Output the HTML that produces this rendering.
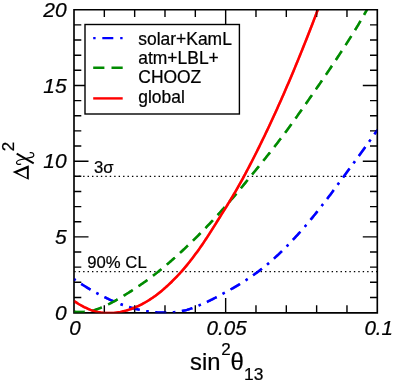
<!DOCTYPE html><html><head><meta charset="utf-8"><style>html,body{margin:0;padding:0;background:#fff}svg{display:block;will-change:transform;opacity:0.999}text{font-family:"Liberation Sans",sans-serif;fill:#000;stroke:#000;stroke-width:0.22px}</style></head><body>
<svg width="393" height="382" viewBox="0 0 393 382">
<rect width="393" height="382" fill="#fff"/>
<defs><clipPath id="c"><rect x="74.0" y="9.75" width="303.3" height="302.85"/></clipPath><clipPath id="c2"><rect x="73.2" y="10.75" width="304.1" height="303.05"/></clipPath></defs>
<line x1="74.25" y1="271.56" x2="377.3" y2="271.56" stroke="#000" stroke-width="1.3" stroke-dasharray="1.4 3.038"/>
<line x1="74.25" y1="176.32" x2="377.3" y2="176.32" stroke="#000" stroke-width="1.3" stroke-dasharray="1.4 3.038"/>
<g clip-path="url(#c)" fill="none" stroke-width="2.5" stroke-linejoin="round">
<path d="M74.00,279.16 L75.27,280.02 L76.54,280.86 L77.81,281.70 L79.08,282.53 L80.35,283.35 L81.61,284.16 L82.88,284.96 L84.15,285.75 L85.42,286.54 L86.69,287.31 L87.96,288.08 L89.23,288.83 L90.50,289.58 L91.77,290.31 L93.04,291.04 L94.30,291.76 L95.57,292.46 L96.84,293.16 L98.11,293.84 L99.38,294.52 L100.65,295.18 L101.92,295.84 L103.19,296.48 L104.46,297.11 L105.73,297.73 L106.99,298.34 L108.26,298.94 L109.53,299.52 L110.80,300.10 L112.07,300.66 L113.34,301.21 L114.61,301.75 L115.88,302.28 L117.15,302.79 L118.42,303.30 L119.69,303.79 L120.95,304.27 L122.22,304.73 L123.49,305.19 L124.76,305.63 L126.03,306.06 L127.30,306.47 L128.57,306.87 L129.84,307.26 L131.11,307.64 L132.38,308.00 L133.64,308.35 L134.91,308.69 L136.18,309.01 L137.45,309.32 L138.72,309.62 L139.99,309.90 L141.26,310.17 L142.53,310.43 L143.80,310.67 L145.07,310.89 L146.34,311.11 L147.60,311.31 L148.87,311.49 L150.14,311.66 L151.41,311.82 L152.68,311.96 L153.95,312.09 L155.22,312.21 L156.49,312.31 L157.76,312.39 L159.03,312.46 L160.29,312.52 L161.56,312.56 L162.83,312.59 L164.10,312.60 L165.37,312.60 L166.64,312.58 L167.91,312.55 L169.18,312.50 L170.45,312.44 L171.72,312.36 L172.98,312.26 L174.25,312.13 L175.52,311.99 L176.79,311.83 L178.06,311.65 L179.33,311.46 L180.60,311.24 L181.87,311.01 L183.14,310.76 L184.41,310.49 L185.68,310.20 L186.94,309.87 L188.21,309.50 L189.48,309.10 L190.75,308.67 L192.02,308.21 L193.29,307.74 L194.56,307.24 L195.83,306.74 L197.10,306.22 L198.37,305.70 L199.63,305.19 L200.90,304.67 L202.17,304.14 L203.44,303.58 L204.71,303.02 L205.98,302.43 L207.25,301.84 L208.52,301.23 L209.79,300.60 L211.06,299.97 L212.33,299.33 L213.59,298.67 L214.86,298.01 L216.13,297.34 L217.40,296.67 L218.67,295.98 L219.94,295.30 L221.21,294.61 L222.48,293.92 L223.75,293.23 L225.02,292.53 L226.28,291.84 L227.55,291.14 L228.82,290.44 L230.09,289.74 L231.36,289.03 L232.63,288.31 L233.90,287.59 L235.17,286.85 L236.44,286.11 L237.71,285.36 L238.97,284.60 L240.24,283.82 L241.51,283.03 L242.78,282.22 L244.05,281.40 L245.32,280.57 L246.59,279.72 L247.86,278.86 L249.13,278.00 L250.40,277.13 L251.67,276.25 L252.93,275.37 L254.20,274.48 L255.47,273.58 L256.74,272.66 L258.01,271.73 L259.28,270.79 L260.55,269.83 L261.82,268.85 L263.09,267.86 L264.36,266.85 L265.62,265.81 L266.89,264.75 L268.16,263.68 L269.43,262.59 L270.70,261.48 L271.97,260.36 L273.24,259.23 L274.51,258.09 L275.78,256.92 L277.05,255.75 L278.32,254.56 L279.58,253.35 L280.85,252.13 L282.12,250.90 L283.39,249.64 L284.66,248.38 L285.93,247.10 L287.20,245.81 L288.47,244.51 L289.74,243.20 L291.01,241.87 L292.27,240.54 L293.54,239.19 L294.81,237.84 L296.08,236.47 L297.35,235.08 L298.62,233.68 L299.89,232.27 L301.16,230.84 L302.43,229.40 L303.70,227.94 L304.96,226.47 L306.23,224.98 L307.50,223.48 L308.77,221.96 L310.04,220.43 L311.31,218.89 L312.58,217.34 L313.85,215.78 L315.12,214.21 L316.39,212.63 L317.66,211.04 L318.92,209.44 L320.19,207.83 L321.46,206.22 L322.73,204.59 L324.00,202.96 L325.27,201.33 L326.54,199.67 L327.81,198.01 L329.08,196.32 L330.35,194.63 L331.61,192.93 L332.88,191.21 L334.15,189.49 L335.42,187.77 L336.69,186.05 L337.96,184.32 L339.23,182.60 L340.50,180.88 L341.77,179.17 L343.04,177.45 L344.31,175.73 L345.57,174.01 L346.84,172.29 L348.11,170.56 L349.38,168.84 L350.65,167.11 L351.92,165.38 L353.19,163.65 L354.46,161.91 L355.73,160.18 L357.00,158.44 L358.26,156.70 L359.53,154.95 L360.80,153.21 L362.07,151.46 L363.34,149.70 L364.61,147.94 L365.88,146.18 L367.15,144.42 L368.42,142.65 L369.69,140.88 L370.95,139.10 L372.22,137.30 L373.49,135.50 L374.76,133.69 L376.03,131.88 L377.30,130.06" stroke="#0000ff" stroke-dasharray="2.5 6.6 11.0 6.6" stroke-dashoffset="0.5"/>
<path d="M74.00,311.57 L75.27,311.78 L76.54,311.93 L77.81,312.03 L79.08,312.09 L80.35,312.10 L81.61,312.06 L82.88,311.98 L84.15,311.86 L85.42,311.70 L86.69,311.54 L87.96,311.36 L89.23,311.17 L90.50,310.96 L91.77,310.72 L93.04,310.44 L94.30,310.11 L95.57,309.73 L96.84,309.29 L98.11,308.83 L99.38,308.35 L100.65,307.84 L101.92,307.31 L103.19,306.77 L104.46,306.20 L105.73,305.61 L106.99,305.01 L108.26,304.39 L109.53,303.75 L110.80,303.10 L112.07,302.43 L113.34,301.74 L114.61,301.05 L115.88,300.34 L117.15,299.61 L118.42,298.88 L119.69,298.13 L120.95,297.37 L122.22,296.61 L123.49,295.84 L124.76,295.06 L126.03,294.28 L127.30,293.49 L128.57,292.70 L129.84,291.89 L131.11,291.08 L132.38,290.27 L133.64,289.44 L134.91,288.61 L136.18,287.77 L137.45,286.93 L138.72,286.07 L139.99,285.21 L141.26,284.34 L142.53,283.46 L143.80,282.57 L145.07,281.68 L146.34,280.77 L147.60,279.85 L148.87,278.92 L150.14,277.99 L151.41,277.04 L152.68,276.08 L153.95,275.10 L155.22,274.12 L156.49,273.12 L157.76,272.11 L159.03,271.10 L160.29,270.07 L161.56,269.03 L162.83,267.98 L164.10,266.93 L165.37,265.86 L166.64,264.78 L167.91,263.70 L169.18,262.61 L170.45,261.51 L171.72,260.40 L172.98,259.28 L174.25,258.15 L175.52,257.01 L176.79,255.87 L178.06,254.72 L179.33,253.56 L180.60,252.39 L181.87,251.22 L183.14,250.03 L184.41,248.84 L185.68,247.64 L186.94,246.44 L188.21,245.22 L189.48,244.00 L190.75,242.78 L192.02,241.54 L193.29,240.30 L194.56,239.05 L195.83,237.80 L197.10,236.54 L198.37,235.27 L199.63,234.00 L200.90,232.72 L202.17,231.43 L203.44,230.14 L204.71,228.83 L205.98,227.52 L207.25,226.20 L208.52,224.87 L209.79,223.53 L211.06,222.18 L212.33,220.83 L213.59,219.47 L214.86,218.10 L216.13,216.72 L217.40,215.33 L218.67,213.93 L219.94,212.53 L221.21,211.12 L222.48,209.70 L223.75,208.27 L225.02,206.84 L226.28,205.40 L227.55,203.95 L228.82,202.49 L230.09,201.02 L231.36,199.55 L232.63,198.07 L233.90,196.58 L235.17,195.09 L236.44,193.58 L237.71,192.07 L238.97,190.56 L240.24,189.03 L241.51,187.50 L242.78,185.96 L244.05,184.42 L245.32,182.87 L246.59,181.32 L247.86,179.77 L249.13,178.22 L250.40,176.66 L251.67,175.11 L252.93,173.56 L254.20,172.01 L255.47,170.46 L256.74,168.90 L258.01,167.34 L259.28,165.78 L260.55,164.21 L261.82,162.65 L263.09,161.07 L264.36,159.50 L265.62,157.92 L266.89,156.33 L268.16,154.74 L269.43,153.14 L270.70,151.54 L271.97,149.93 L273.24,148.31 L274.51,146.68 L275.78,145.05 L277.05,143.41 L278.32,141.76 L279.58,140.10 L280.85,138.43 L282.12,136.75 L283.39,135.06 L284.66,133.36 L285.93,131.65 L287.20,129.93 L288.47,128.20 L289.74,126.46 L291.01,124.72 L292.27,122.96 L293.54,121.20 L294.81,119.43 L296.08,117.65 L297.35,115.87 L298.62,114.08 L299.89,112.29 L301.16,110.49 L302.43,108.68 L303.70,106.88 L304.96,105.06 L306.23,103.25 L307.50,101.43 L308.77,99.61 L310.04,97.78 L311.31,95.95 L312.58,94.12 L313.85,92.29 L315.12,90.46 L316.39,88.62 L317.66,86.78 L318.92,84.95 L320.19,83.11 L321.46,81.27 L322.73,79.42 L324.00,77.56 L325.27,75.70 L326.54,73.84 L327.81,71.97 L329.08,70.09 L330.35,68.20 L331.61,66.31 L332.88,64.42 L334.15,62.52 L335.42,60.61 L336.69,58.70 L337.96,56.78 L339.23,54.85 L340.50,52.92 L341.77,50.98 L343.04,49.04 L344.31,47.09 L345.57,45.13 L346.84,43.16 L348.11,41.18 L349.38,39.18 L350.65,37.17 L351.92,35.15 L353.19,33.11 L354.46,31.05 L355.73,28.98 L357.00,26.89 L358.26,24.79 L359.53,22.66 L360.80,20.52 L362.07,18.35 L363.34,16.17 L364.61,13.96 L365.88,11.73 L367.15,9.47 L368.42,7.19 L369.69,4.88 L370.95,2.55 L372.22,0.18 L373.49,-2.21 L374.76,-4.63 L376.03,-7.09 L377.30,-9.58" stroke="#008b00" stroke-dasharray="10.75 7.0"/>
<path d="M74.00,300.92 L75.27,301.79 L76.54,302.64 L77.81,303.45 L79.08,304.23 L80.35,304.97 L81.61,305.69 L82.88,306.37 L84.15,307.02 L85.42,307.63 L86.69,308.23 L87.96,308.80 L89.23,309.34 L90.50,309.85 L91.77,310.32 L93.04,310.75 L94.30,311.13 L95.57,311.47 L96.84,311.77 L98.11,312.04 L99.38,312.27 L100.65,312.48 L101.92,312.66 L103.19,312.81 L104.46,312.92 L105.73,313.01 L106.99,313.07 L108.26,313.10 L109.53,313.10 L110.80,313.07 L112.07,313.01 L113.34,312.93 L114.61,312.82 L115.88,312.68 L117.15,312.51 L118.42,312.32 L119.69,312.11 L120.95,311.86 L122.22,311.59 L123.49,311.29 L124.76,310.97 L126.03,310.62 L127.30,310.24 L128.57,309.85 L129.84,309.43 L131.11,308.99 L132.38,308.52 L133.64,308.03 L134.91,307.51 L136.18,306.96 L137.45,306.39 L138.72,305.80 L139.99,305.19 L141.26,304.55 L142.53,303.88 L143.80,303.20 L145.07,302.49 L146.34,301.75 L147.60,300.99 L148.87,300.21 L150.14,299.40 L151.41,298.57 L152.68,297.71 L153.95,296.82 L155.22,295.91 L156.49,294.97 L157.76,294.01 L159.03,293.02 L160.29,292.00 L161.56,290.96 L162.83,289.89 L164.10,288.79 L165.37,287.67 L166.64,286.53 L167.91,285.37 L169.18,284.19 L170.45,282.98 L171.72,281.75 L172.98,280.49 L174.25,279.22 L175.52,277.92 L176.79,276.60 L178.06,275.25 L179.33,273.89 L180.60,272.50 L181.87,271.09 L183.14,269.64 L184.41,268.16 L185.68,266.65 L186.94,265.11 L188.21,263.54 L189.48,261.95 L190.75,260.33 L192.02,258.69 L193.29,257.02 L194.56,255.33 L195.83,253.62 L197.10,251.89 L198.37,250.15 L199.63,248.37 L200.90,246.56 L202.17,244.71 L203.44,242.84 L204.71,240.93 L205.98,239.01 L207.25,237.06 L208.52,235.09 L209.79,233.11 L211.06,231.11 L212.33,229.11 L213.59,227.09 L214.86,225.07 L216.13,223.04 L217.40,221.02 L218.67,218.99 L219.94,216.97 L221.21,214.95 L222.48,212.93 L223.75,210.90 L225.02,208.86 L226.28,206.81 L227.55,204.75 L228.82,202.68 L230.09,200.59 L231.36,198.48 L232.63,196.36 L233.90,194.22 L235.17,192.05 L236.44,189.86 L237.71,187.65 L238.97,185.42 L240.24,183.15 L241.51,180.86 L242.78,178.53 L244.05,176.18 L245.32,173.81 L246.59,171.43 L247.86,169.02 L249.13,166.60 L250.40,164.16 L251.67,161.70 L252.93,159.23 L254.20,156.74 L255.47,154.23 L256.74,151.70 L258.01,149.15 L259.28,146.59 L260.55,144.01 L261.82,141.42 L263.09,138.80 L264.36,136.17 L265.62,133.52 L266.89,130.86 L268.16,128.17 L269.43,125.47 L270.70,122.75 L271.97,120.02 L273.24,117.27 L274.51,114.50 L275.78,111.71 L277.05,108.91 L278.32,106.09 L279.58,103.25 L280.85,100.39 L282.12,97.52 L283.39,94.63 L284.66,91.73 L285.93,88.80 L287.20,85.86 L288.47,82.90 L289.74,79.93 L291.01,76.94 L292.27,73.93 L293.54,70.90 L294.81,67.86 L296.08,64.80 L297.35,61.72 L298.62,58.63 L299.89,55.51 L301.16,52.38 L302.43,49.24 L303.70,46.07 L304.96,42.89 L306.23,39.70 L307.50,36.48 L308.77,33.25 L310.04,30.00 L311.31,26.73 L312.58,23.45 L313.85,20.15 L315.12,16.83 L316.39,13.49 L317.66,10.14 L318.92,6.77 L320.19,3.38 L321.46,-0.03 L322.73,-3.45 L324.00,-6.89 L325.27,-10.35 L326.54,-13.83 L327.81,-17.32 L329.08,-20.83 L330.35,-24.36 L331.61,-27.91 L332.88,-31.47 L334.15,-35.05 L335.42,-38.65 L336.69,-42.27 L337.96,-45.91 L339.23,-49.56 L340.50,-53.23 L341.77,-56.92 L343.04,-60.63 L344.31,-64.36 L345.57,-68.10 L346.84,-71.86 L348.11,-75.64 L349.38,-79.44 L350.65,-83.26 L351.92,-87.09 L353.19,-90.95 L354.46,-94.82 L355.73,-98.71 L357.00,-102.62 L358.26,-106.55 L359.53,-110.50 L360.80,-114.46 L362.07,-118.45 L363.34,-122.45 L364.61,-126.48 L365.88,-130.52 L367.15,-134.58 L368.42,-138.66 L369.69,-142.76 L370.95,-146.88 L372.22,-151.02 L373.49,-155.17 L374.76,-159.35 L376.03,-163.55 L377.30,-167.76" stroke="#ff0000"/>
</g>
<path d="M104.33,312.6v-7.3M104.33,9.75v7.3M134.66,312.6v-7.3M134.66,9.75v7.3M164.99,312.6v-7.3M164.99,9.75v7.3M195.32,312.6v-7.3M195.32,9.75v7.3M225.65,312.6v-14.5M225.65,9.75v14.5M255.98,312.6v-7.3M255.98,9.75v7.3M286.31,312.6v-7.3M286.31,9.75v7.3M316.64,312.6v-7.3M316.64,9.75v7.3M346.97,312.6v-7.3M346.97,9.75v7.3M74.0,297.46h7.3M377.3,297.46h-7.3M74.0,282.31h7.3M377.3,282.31h-7.3M74.0,267.17h7.3M377.3,267.17h-7.3M74.0,252.03h7.3M377.3,252.03h-7.3M74.0,236.89h14.5M377.3,236.89h-14.5M74.0,221.75h7.3M377.3,221.75h-7.3M74.0,206.60h7.3M377.3,206.60h-7.3M74.0,191.46h7.3M377.3,191.46h-7.3M74.0,176.32h7.3M377.3,176.32h-7.3M74.0,161.18h14.5M377.3,161.18h-14.5M74.0,146.03h7.3M377.3,146.03h-7.3M74.0,130.89h7.3M377.3,130.89h-7.3M74.0,115.75h7.3M377.3,115.75h-7.3M74.0,100.61h7.3M377.3,100.61h-7.3M74.0,85.46h14.5M377.3,85.46h-14.5M74.0,70.32h7.3M377.3,70.32h-7.3M74.0,55.18h7.3M377.3,55.18h-7.3M74.0,40.03h7.3M377.3,40.03h-7.3M74.0,24.89h7.3M377.3,24.89h-7.3" stroke="#000" stroke-width="1.4" fill="none"/>
<path d="M74.0,312.8V9.75H377.3V312.8Z" fill="none" stroke="#000" stroke-width="1.65" stroke-linejoin="miter"/>
<g clip-path="url(#c2)" opacity="0.5" fill="none" stroke-width="2.5" stroke-linejoin="round">
<path d="M74.00,279.16 L75.27,280.02 L76.54,280.86 L77.81,281.70 L79.08,282.53 L80.35,283.35 L81.61,284.16 L82.88,284.96 L84.15,285.75 L85.42,286.54 L86.69,287.31 L87.96,288.08 L89.23,288.83 L90.50,289.58 L91.77,290.31 L93.04,291.04 L94.30,291.76 L95.57,292.46 L96.84,293.16 L98.11,293.84 L99.38,294.52 L100.65,295.18 L101.92,295.84 L103.19,296.48 L104.46,297.11 L105.73,297.73 L106.99,298.34 L108.26,298.94 L109.53,299.52 L110.80,300.10 L112.07,300.66 L113.34,301.21 L114.61,301.75 L115.88,302.28 L117.15,302.79 L118.42,303.30 L119.69,303.79 L120.95,304.27 L122.22,304.73 L123.49,305.19 L124.76,305.63 L126.03,306.06 L127.30,306.47 L128.57,306.87 L129.84,307.26 L131.11,307.64 L132.38,308.00 L133.64,308.35 L134.91,308.69 L136.18,309.01 L137.45,309.32 L138.72,309.62 L139.99,309.90 L141.26,310.17 L142.53,310.43 L143.80,310.67 L145.07,310.89 L146.34,311.11 L147.60,311.31 L148.87,311.49 L150.14,311.66 L151.41,311.82 L152.68,311.96 L153.95,312.09 L155.22,312.21 L156.49,312.31 L157.76,312.39 L159.03,312.46 L160.29,312.52 L161.56,312.56 L162.83,312.59 L164.10,312.60 L165.37,312.60 L166.64,312.58 L167.91,312.55 L169.18,312.50 L170.45,312.44 L171.72,312.36 L172.98,312.26 L174.25,312.13 L175.52,311.99 L176.79,311.83 L178.06,311.65 L179.33,311.46 L180.60,311.24 L181.87,311.01 L183.14,310.76 L184.41,310.49 L185.68,310.20 L186.94,309.87 L188.21,309.50 L189.48,309.10 L190.75,308.67 L192.02,308.21 L193.29,307.74 L194.56,307.24 L195.83,306.74 L197.10,306.22 L198.37,305.70 L199.63,305.19 L200.90,304.67 L202.17,304.14 L203.44,303.58 L204.71,303.02 L205.98,302.43 L207.25,301.84 L208.52,301.23 L209.79,300.60 L211.06,299.97 L212.33,299.33 L213.59,298.67 L214.86,298.01 L216.13,297.34 L217.40,296.67 L218.67,295.98 L219.94,295.30 L221.21,294.61 L222.48,293.92 L223.75,293.23 L225.02,292.53 L226.28,291.84 L227.55,291.14 L228.82,290.44 L230.09,289.74 L231.36,289.03 L232.63,288.31 L233.90,287.59 L235.17,286.85 L236.44,286.11 L237.71,285.36 L238.97,284.60 L240.24,283.82 L241.51,283.03 L242.78,282.22 L244.05,281.40 L245.32,280.57 L246.59,279.72 L247.86,278.86 L249.13,278.00 L250.40,277.13 L251.67,276.25 L252.93,275.37 L254.20,274.48 L255.47,273.58 L256.74,272.66 L258.01,271.73 L259.28,270.79 L260.55,269.83 L261.82,268.85 L263.09,267.86 L264.36,266.85 L265.62,265.81 L266.89,264.75 L268.16,263.68 L269.43,262.59 L270.70,261.48 L271.97,260.36 L273.24,259.23 L274.51,258.09 L275.78,256.92 L277.05,255.75 L278.32,254.56 L279.58,253.35 L280.85,252.13 L282.12,250.90 L283.39,249.64 L284.66,248.38 L285.93,247.10 L287.20,245.81 L288.47,244.51 L289.74,243.20 L291.01,241.87 L292.27,240.54 L293.54,239.19 L294.81,237.84 L296.08,236.47 L297.35,235.08 L298.62,233.68 L299.89,232.27 L301.16,230.84 L302.43,229.40 L303.70,227.94 L304.96,226.47 L306.23,224.98 L307.50,223.48 L308.77,221.96 L310.04,220.43 L311.31,218.89 L312.58,217.34 L313.85,215.78 L315.12,214.21 L316.39,212.63 L317.66,211.04 L318.92,209.44 L320.19,207.83 L321.46,206.22 L322.73,204.59 L324.00,202.96 L325.27,201.33 L326.54,199.67 L327.81,198.01 L329.08,196.32 L330.35,194.63 L331.61,192.93 L332.88,191.21 L334.15,189.49 L335.42,187.77 L336.69,186.05 L337.96,184.32 L339.23,182.60 L340.50,180.88 L341.77,179.17 L343.04,177.45 L344.31,175.73 L345.57,174.01 L346.84,172.29 L348.11,170.56 L349.38,168.84 L350.65,167.11 L351.92,165.38 L353.19,163.65 L354.46,161.91 L355.73,160.18 L357.00,158.44 L358.26,156.70 L359.53,154.95 L360.80,153.21 L362.07,151.46 L363.34,149.70 L364.61,147.94 L365.88,146.18 L367.15,144.42 L368.42,142.65 L369.69,140.88 L370.95,139.10 L372.22,137.30 L373.49,135.50 L374.76,133.69 L376.03,131.88 L377.30,130.06" stroke="#0000ff" stroke-dasharray="2.5 6.6 11.0 6.6" stroke-dashoffset="0.5"/>
<path d="M74.00,311.57 L75.27,311.78 L76.54,311.93 L77.81,312.03 L79.08,312.09 L80.35,312.10 L81.61,312.06 L82.88,311.98 L84.15,311.86 L85.42,311.70 L86.69,311.54 L87.96,311.36 L89.23,311.17 L90.50,310.96 L91.77,310.72 L93.04,310.44 L94.30,310.11 L95.57,309.73 L96.84,309.29 L98.11,308.83 L99.38,308.35 L100.65,307.84 L101.92,307.31 L103.19,306.77 L104.46,306.20 L105.73,305.61 L106.99,305.01 L108.26,304.39 L109.53,303.75 L110.80,303.10 L112.07,302.43 L113.34,301.74 L114.61,301.05 L115.88,300.34 L117.15,299.61 L118.42,298.88 L119.69,298.13 L120.95,297.37 L122.22,296.61 L123.49,295.84 L124.76,295.06 L126.03,294.28 L127.30,293.49 L128.57,292.70 L129.84,291.89 L131.11,291.08 L132.38,290.27 L133.64,289.44 L134.91,288.61 L136.18,287.77 L137.45,286.93 L138.72,286.07 L139.99,285.21 L141.26,284.34 L142.53,283.46 L143.80,282.57 L145.07,281.68 L146.34,280.77 L147.60,279.85 L148.87,278.92 L150.14,277.99 L151.41,277.04 L152.68,276.08 L153.95,275.10 L155.22,274.12 L156.49,273.12 L157.76,272.11 L159.03,271.10 L160.29,270.07 L161.56,269.03 L162.83,267.98 L164.10,266.93 L165.37,265.86 L166.64,264.78 L167.91,263.70 L169.18,262.61 L170.45,261.51 L171.72,260.40 L172.98,259.28 L174.25,258.15 L175.52,257.01 L176.79,255.87 L178.06,254.72 L179.33,253.56 L180.60,252.39 L181.87,251.22 L183.14,250.03 L184.41,248.84 L185.68,247.64 L186.94,246.44 L188.21,245.22 L189.48,244.00 L190.75,242.78 L192.02,241.54 L193.29,240.30 L194.56,239.05 L195.83,237.80 L197.10,236.54 L198.37,235.27 L199.63,234.00 L200.90,232.72 L202.17,231.43 L203.44,230.14 L204.71,228.83 L205.98,227.52 L207.25,226.20 L208.52,224.87 L209.79,223.53 L211.06,222.18 L212.33,220.83 L213.59,219.47 L214.86,218.10 L216.13,216.72 L217.40,215.33 L218.67,213.93 L219.94,212.53 L221.21,211.12 L222.48,209.70 L223.75,208.27 L225.02,206.84 L226.28,205.40 L227.55,203.95 L228.82,202.49 L230.09,201.02 L231.36,199.55 L232.63,198.07 L233.90,196.58 L235.17,195.09 L236.44,193.58 L237.71,192.07 L238.97,190.56 L240.24,189.03 L241.51,187.50 L242.78,185.96 L244.05,184.42 L245.32,182.87 L246.59,181.32 L247.86,179.77 L249.13,178.22 L250.40,176.66 L251.67,175.11 L252.93,173.56 L254.20,172.01 L255.47,170.46 L256.74,168.90 L258.01,167.34 L259.28,165.78 L260.55,164.21 L261.82,162.65 L263.09,161.07 L264.36,159.50 L265.62,157.92 L266.89,156.33 L268.16,154.74 L269.43,153.14 L270.70,151.54 L271.97,149.93 L273.24,148.31 L274.51,146.68 L275.78,145.05 L277.05,143.41 L278.32,141.76 L279.58,140.10 L280.85,138.43 L282.12,136.75 L283.39,135.06 L284.66,133.36 L285.93,131.65 L287.20,129.93 L288.47,128.20 L289.74,126.46 L291.01,124.72 L292.27,122.96 L293.54,121.20 L294.81,119.43 L296.08,117.65 L297.35,115.87 L298.62,114.08 L299.89,112.29 L301.16,110.49 L302.43,108.68 L303.70,106.88 L304.96,105.06 L306.23,103.25 L307.50,101.43 L308.77,99.61 L310.04,97.78 L311.31,95.95 L312.58,94.12 L313.85,92.29 L315.12,90.46 L316.39,88.62 L317.66,86.78 L318.92,84.95 L320.19,83.11 L321.46,81.27 L322.73,79.42 L324.00,77.56 L325.27,75.70 L326.54,73.84 L327.81,71.97 L329.08,70.09 L330.35,68.20 L331.61,66.31 L332.88,64.42 L334.15,62.52 L335.42,60.61 L336.69,58.70 L337.96,56.78 L339.23,54.85 L340.50,52.92 L341.77,50.98 L343.04,49.04 L344.31,47.09 L345.57,45.13 L346.84,43.16 L348.11,41.18 L349.38,39.18 L350.65,37.17 L351.92,35.15 L353.19,33.11 L354.46,31.05 L355.73,28.98 L357.00,26.89 L358.26,24.79 L359.53,22.66 L360.80,20.52 L362.07,18.35 L363.34,16.17 L364.61,13.96 L365.88,11.73 L367.15,9.47 L368.42,7.19 L369.69,4.88 L370.95,2.55 L372.22,0.18 L373.49,-2.21 L374.76,-4.63 L376.03,-7.09 L377.30,-9.58" stroke="#008b00" stroke-dasharray="10.75 7.0"/>
<path d="M74.00,300.92 L75.27,301.79 L76.54,302.64 L77.81,303.45 L79.08,304.23 L80.35,304.97 L81.61,305.69 L82.88,306.37 L84.15,307.02 L85.42,307.63 L86.69,308.23 L87.96,308.80 L89.23,309.34 L90.50,309.85 L91.77,310.32 L93.04,310.75 L94.30,311.13 L95.57,311.47 L96.84,311.77 L98.11,312.04 L99.38,312.27 L100.65,312.48 L101.92,312.66 L103.19,312.81 L104.46,312.92 L105.73,313.01 L106.99,313.07 L108.26,313.10 L109.53,313.10 L110.80,313.07 L112.07,313.01 L113.34,312.93 L114.61,312.82 L115.88,312.68 L117.15,312.51 L118.42,312.32 L119.69,312.11 L120.95,311.86 L122.22,311.59 L123.49,311.29 L124.76,310.97 L126.03,310.62 L127.30,310.24 L128.57,309.85 L129.84,309.43 L131.11,308.99 L132.38,308.52 L133.64,308.03 L134.91,307.51 L136.18,306.96 L137.45,306.39 L138.72,305.80 L139.99,305.19 L141.26,304.55 L142.53,303.88 L143.80,303.20 L145.07,302.49 L146.34,301.75 L147.60,300.99 L148.87,300.21 L150.14,299.40 L151.41,298.57 L152.68,297.71 L153.95,296.82 L155.22,295.91 L156.49,294.97 L157.76,294.01 L159.03,293.02 L160.29,292.00 L161.56,290.96 L162.83,289.89 L164.10,288.79 L165.37,287.67 L166.64,286.53 L167.91,285.37 L169.18,284.19 L170.45,282.98 L171.72,281.75 L172.98,280.49 L174.25,279.22 L175.52,277.92 L176.79,276.60 L178.06,275.25 L179.33,273.89 L180.60,272.50 L181.87,271.09 L183.14,269.64 L184.41,268.16 L185.68,266.65 L186.94,265.11 L188.21,263.54 L189.48,261.95 L190.75,260.33 L192.02,258.69 L193.29,257.02 L194.56,255.33 L195.83,253.62 L197.10,251.89 L198.37,250.15 L199.63,248.37 L200.90,246.56 L202.17,244.71 L203.44,242.84 L204.71,240.93 L205.98,239.01 L207.25,237.06 L208.52,235.09 L209.79,233.11 L211.06,231.11 L212.33,229.11 L213.59,227.09 L214.86,225.07 L216.13,223.04 L217.40,221.02 L218.67,218.99 L219.94,216.97 L221.21,214.95 L222.48,212.93 L223.75,210.90 L225.02,208.86 L226.28,206.81 L227.55,204.75 L228.82,202.68 L230.09,200.59 L231.36,198.48 L232.63,196.36 L233.90,194.22 L235.17,192.05 L236.44,189.86 L237.71,187.65 L238.97,185.42 L240.24,183.15 L241.51,180.86 L242.78,178.53 L244.05,176.18 L245.32,173.81 L246.59,171.43 L247.86,169.02 L249.13,166.60 L250.40,164.16 L251.67,161.70 L252.93,159.23 L254.20,156.74 L255.47,154.23 L256.74,151.70 L258.01,149.15 L259.28,146.59 L260.55,144.01 L261.82,141.42 L263.09,138.80 L264.36,136.17 L265.62,133.52 L266.89,130.86 L268.16,128.17 L269.43,125.47 L270.70,122.75 L271.97,120.02 L273.24,117.27 L274.51,114.50 L275.78,111.71 L277.05,108.91 L278.32,106.09 L279.58,103.25 L280.85,100.39 L282.12,97.52 L283.39,94.63 L284.66,91.73 L285.93,88.80 L287.20,85.86 L288.47,82.90 L289.74,79.93 L291.01,76.94 L292.27,73.93 L293.54,70.90 L294.81,67.86 L296.08,64.80 L297.35,61.72 L298.62,58.63 L299.89,55.51 L301.16,52.38 L302.43,49.24 L303.70,46.07 L304.96,42.89 L306.23,39.70 L307.50,36.48 L308.77,33.25 L310.04,30.00 L311.31,26.73 L312.58,23.45 L313.85,20.15 L315.12,16.83 L316.39,13.49 L317.66,10.14 L318.92,6.77 L320.19,3.38 L321.46,-0.03 L322.73,-3.45 L324.00,-6.89 L325.27,-10.35 L326.54,-13.83 L327.81,-17.32 L329.08,-20.83 L330.35,-24.36 L331.61,-27.91 L332.88,-31.47 L334.15,-35.05 L335.42,-38.65 L336.69,-42.27 L337.96,-45.91 L339.23,-49.56 L340.50,-53.23 L341.77,-56.92 L343.04,-60.63 L344.31,-64.36 L345.57,-68.10 L346.84,-71.86 L348.11,-75.64 L349.38,-79.44 L350.65,-83.26 L351.92,-87.09 L353.19,-90.95 L354.46,-94.82 L355.73,-98.71 L357.00,-102.62 L358.26,-106.55 L359.53,-110.50 L360.80,-114.46 L362.07,-118.45 L363.34,-122.45 L364.61,-126.48 L365.88,-130.52 L367.15,-134.58 L368.42,-138.66 L369.69,-142.76 L370.95,-146.88 L372.22,-151.02 L373.49,-155.17 L374.76,-159.35 L376.03,-163.55 L377.30,-167.76" stroke="#ff0000"/>
</g>
<rect x="85" y="24.5" width="154.4" height="89.5" fill="#fff" stroke="#000" stroke-width="1.4"/>
<g fill="none" stroke-width="2.4">
<path d="M93.2,38.1H122.7" stroke="#0000ff" stroke-dasharray="2.4 6.7 11.0 6.9"/>
<path d="M93.2,67.7H122.7" stroke="#008b00" stroke-dasharray="11.2 7.1"/>
<path d="M93.2,98.4H122.7" stroke="#ff0000"/>
</g>
<g font-size="17.45">
<text x="138.3" y="44.8">solar+KamL</text>
<text x="138.3" y="64.1">atm+LBL+</text>
<text x="138.3" y="82.6">CHOOZ</text>
<text x="138.3" y="102.9">global</text>
</g>
<text x="94.0" y="172.9" font-size="16.7">3σ</text>
<text x="87.3" y="267.5" font-size="16.7">90% CL</text>
<g font-size="21" font-style="italic" text-anchor="end">
<text x="66.7" y="319.85">0</text>
<text x="66.7" y="244.14">5</text>
<text x="66.7" y="168.43">10</text>
<text x="66.7" y="92.71">15</text>
<text x="66.7" y="17.00">20</text>
</g>
<g font-size="20.6" font-style="italic" text-anchor="middle">
<text x="75.00" y="334.8">0</text>
<text x="226.65" y="334.8">0.05</text>
<text x="378.70" y="334.8">0.1</text>
</g>
<text x="190.0" y="369.9" font-size="23.8">sin</text>
<text x="221.2" y="355.1" font-size="17">2</text>
<text x="230.6" y="370.4" font-size="23.9">θ</text>
<text x="244.0" y="380.0" font-size="17.4">13</text>
<path d="M12.6,172.1 L28.8,165.2 L28.8,179.7 Z M17.2,172.6 L26.9,168.8 L26.9,177.7 Z" fill="#000" fill-rule="evenodd"/>
<path d="M16.7,153.7 L33.7,163.3" stroke="#000" stroke-width="1.9" fill="none"/>
<path d="M30.2,152.6 C32.0,152.3 33.9,153.3 33.8,155.25 C33.7,156.6 32.6,157.2 31.0,157.4 C27.6,157.9 25.3,158.7 21.5,159.5 C19.0,160.0 16.6,160.8 16.5,162.5 C16.4,164.0 18.0,164.8 20.7,164.2" stroke="#000" stroke-width="1.2" stroke-linecap="round" fill="none"/>
<text transform="translate(13.7,151.2) rotate(-90)" font-size="17">2</text>
</svg></body></html>
